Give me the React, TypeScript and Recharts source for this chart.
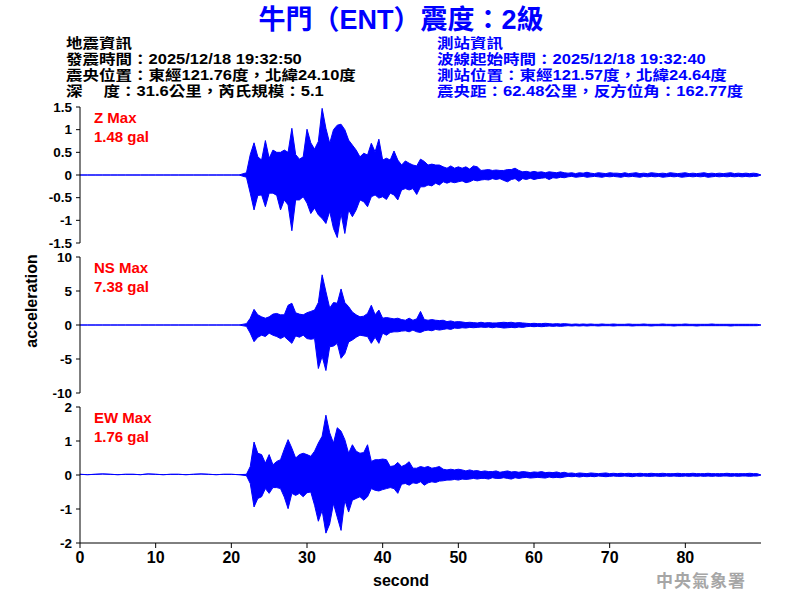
import { ComposedChart, Area, XAxis, YAxis } from "recharts";

// trace envelopes, one high/low pair per 0.5 s bin from 22.0 s to 89.5 s
const BIN_START = 22;
const BIN_STEP = 0.5;

const zHigh = [
  0.05, 0.45, 0.71, 0.4, 0.33, 0.76, 0.37, 0.55, 0.5, 0.5,
  0.55, 0.5, 1.03, 0.45, 0.35, 0.4, 1.01, 0.71, 0.57, 0.74,
  1.47, 1.03, 0.7, 1.0, 1.1, 1.12, 1.0, 0.77, 0.66, 0.55,
  0.4, 0.48, 0.44, 0.7, 0.51, 0.79, 0.33, 0.37, 0.33, 0.53,
  0.33, 0.22, 0.31, 0.26, 0.22, 0.2, 0.35, 0.3, 0.22, 0.24,
  0.22, 0.22, 0.18, 0.15, 0.2, 0.15, 0.18, 0.15, 0.18, 0.13,
  0.2, 0.18, 0.1, 0.11, 0.12, 0.1, 0.11, 0.1, 0.1, 0.12,
  0.12, 0.15, 0.1, 0.07, 0.08, 0.06, 0.08, 0.06, 0.07, 0.05,
  0.07, 0.06, 0.05, 0.07, 0.05, 0.04, 0.05, 0.03, 0.05, 0.04,
  0.06, 0.04, 0.03, 0.05, 0.04, 0.03, 0.05, 0.04, 0.04, 0.03,
  0.05, 0.03, 0.04, 0.05, 0.03, 0.04, 0.03, 0.05, 0.04, 0.03,
  0.04, 0.03, 0.05, 0.04, 0.03, 0.04, 0.05, 0.03, 0.04, 0.03,
  0.04, 0.05, 0.03, 0.04, 0.03, 0.04, 0.03, 0.04, 0.05, 0.03,
  0.04, 0.03, 0.04, 0.03, 0.04, 0.03,
];
const zLow = [
  -0.05, -0.4, -0.77, -0.45, -0.44, -0.7, -0.4, -0.4, -0.45, -0.77,
  -0.55, -0.66, -1.23, -0.55, -0.55, -0.48, -0.62, -0.85, -0.73, -0.88,
  -0.96, -1.07, -0.8, -1.18, -1.38, -0.85, -1.29, -0.77, -0.92, -0.77,
  -0.55, -0.59, -0.7, -0.48, -0.44, -0.51, -0.48, -0.54, -0.4, -0.44,
  -0.55, -0.33, -0.3, -0.33, -0.3, -0.43, -0.26, -0.26, -0.22, -0.24,
  -0.18, -0.22, -0.15, -0.18, -0.15, -0.17, -0.15, -0.13, -0.17, -0.15,
  -0.11, -0.13, -0.11, -0.1, -0.11, -0.08, -0.1, -0.08, -0.12, -0.15,
  -0.1, -0.08, -0.14, -0.08, -0.1, -0.07, -0.1, -0.08, -0.07, -0.06,
  -0.1, -0.06, -0.07, -0.05, -0.06, -0.04, -0.03, -0.05, -0.04, -0.03,
  -0.05, -0.04, -0.03, -0.04, -0.05, -0.03, -0.04, -0.03, -0.04, -0.05,
  -0.03, -0.04, -0.03, -0.04, -0.05, -0.03, -0.04, -0.03, -0.04, -0.03,
  -0.05, -0.04, -0.03, -0.04, -0.03, -0.05, -0.04, -0.03, -0.04, -0.03,
  -0.04, -0.03, -0.05, -0.04, -0.03, -0.04, -0.03, -0.04, -0.03, -0.04,
  -0.03, -0.04, -0.03, -0.04, -0.03, -0.03,
];

const nsHigh = [
  0.2, 1.0, 2.3, 1.5, 1.2, 1.0, 1.2, 1.6, 1.7, 1.5,
  1.5, 2.9, 3.2, 1.8, 1.6, 1.5, 1.8, 2.0, 2.2, 3.3,
  7.38, 4.9, 2.5, 3.3, 3.2, 5.3, 3.3, 2.7, 1.9, 1.5,
  1.2, 1.3, 1.7, 2.9, 1.5, 2.2, 1.0, 1.1, 1.0, 0.9,
  1.0, 0.8, 0.7, 1.0, 0.7, 0.9, 2.0, 0.8, 0.7, 0.8,
  0.7, 0.65, 0.7, 0.5, 0.6, 0.45, 0.5, 0.45, 0.35, 0.4,
  0.35, 0.3, 0.4, 0.3, 0.35, 0.3, 0.3, 0.35, 0.4, 0.35,
  0.4, 0.3, 0.35, 0.3, 0.25, 0.2, 0.25, 0.2, 0.2, 0.25,
  0.2, 0.15, 0.2, 0.15, 0.2, 0.15, 0.1, 0.15, 0.1, 0.15,
  0.1, 0.15, 0.1, 0.1, 0.15, 0.1, 0.1, 0.15, 0.1, 0.1,
  0.1, 0.15, 0.1, 0.1, 0.1, 0.15, 0.1, 0.1, 0.1, 0.1,
  0.15, 0.1, 0.1, 0.1, 0.1, 0.1, 0.15, 0.1, 0.1, 0.1,
  0.1, 0.1, 0.1, 0.15, 0.1, 0.1, 0.1, 0.1, 0.1, 0.1,
  0.1, 0.1, 0.1, 0.1, 0.1, 0.1,
];
const nsLow = [
  -0.2, -1.2, -2.45, -1.8, -1.5, -1.7, -1.2, -1.5, -1.7, -2.0,
  -1.7, -2.2, -2.7, -1.6, -1.8, -1.5, -2.0, -2.1, -2.0, -6.4,
  -4.6, -6.7, -3.2, -3.1, -2.7, -4.9, -4.2, -2.5, -2.2, -1.8,
  -1.5, -1.6, -1.7, -2.7, -1.8, -2.7, -1.2, -1.5, -1.1, -1.0,
  -1.0, -0.9, -0.85, -1.0, -0.75, -1.0, -1.1, -0.85, -0.75, -0.85,
  -0.65, -0.75, -0.65, -0.55, -0.65, -0.45, -0.5, -0.4, -0.45, -0.35,
  -0.4, -0.35, -0.3, -0.35, -0.3, -0.4, -0.3, -0.35, -0.45, -0.4,
  -0.35, -0.4, -0.3, -0.35, -0.25, -0.2, -0.25, -0.2, -0.25, -0.2,
  -0.15, -0.2, -0.15, -0.2, -0.15, -0.1, -0.15, -0.1, -0.15, -0.1,
  -0.15, -0.1, -0.1, -0.15, -0.1, -0.1, -0.1, -0.15, -0.1, -0.1,
  -0.1, -0.1, -0.15, -0.1, -0.1, -0.1, -0.1, -0.15, -0.1, -0.1,
  -0.1, -0.1, -0.1, -0.15, -0.1, -0.1, -0.1, -0.1, -0.1, -0.15,
  -0.1, -0.1, -0.1, -0.1, -0.1, -0.1, -0.1, -0.1, -0.15, -0.1,
  -0.1, -0.1, -0.1, -0.1, -0.1, -0.1,
];

const ewHigh = [
  0.02, 0.25, 0.97, 0.64, 0.6, 0.35, 0.6, 0.3, 0.4, 0.45,
  0.76, 1.04, 0.79, 0.5, 0.6, 0.64, 0.6, 0.55, 0.7, 0.94,
  1.14, 1.76, 1.24, 0.94, 1.39, 1.29, 1.04, 0.64, 0.89, 0.7,
  0.64, 0.66, 0.89, 0.4, 0.45, 0.45, 0.47, 0.45, 0.25, 0.27,
  0.37, 0.25, 0.3, 0.39, 0.2, 0.2, 0.25, 0.22, 0.25, 0.2,
  0.22, 0.25, 0.17, 0.15, 0.17, 0.15, 0.17, 0.15, 0.12, 0.15,
  0.12, 0.13, 0.1, 0.12, 0.1, 0.1, 0.12, 0.08, 0.1, 0.12,
  0.09, 0.1, 0.08, 0.1, 0.09, 0.07, 0.09, 0.08, 0.1, 0.07,
  0.08, 0.07, 0.09, 0.06, 0.08, 0.05, 0.06, 0.04, 0.06, 0.05,
  0.04, 0.06, 0.05, 0.04, 0.05, 0.06, 0.04, 0.05, 0.04, 0.05,
  0.04, 0.05, 0.04, 0.04, 0.05, 0.04, 0.04, 0.05, 0.04, 0.04,
  0.05, 0.04, 0.04, 0.04, 0.05, 0.04, 0.04, 0.04, 0.05, 0.04,
  0.04, 0.04, 0.05, 0.04, 0.04, 0.04, 0.04, 0.05, 0.04, 0.04,
  0.04, 0.04, 0.04, 0.05, 0.04, 0.04,
];
const ewLow = [
  -0.02, -0.25, -0.94, -0.69, -0.64, -0.4, -0.54, -0.37, -0.37, -0.4,
  -0.65, -0.99, -0.54, -0.6, -0.54, -0.64, -0.52, -0.5, -0.89, -1.36,
  -1.04, -1.71, -1.44, -0.84, -1.24, -1.63, -0.74, -1.09, -0.74, -0.69,
  -0.64, -0.74, -0.64, -0.4, -0.45, -0.47, -0.43, -0.4, -0.37, -0.4,
  -0.54, -0.27, -0.25, -0.3, -0.23, -0.25, -0.2, -0.3, -0.23, -0.2,
  -0.22, -0.18, -0.17, -0.15, -0.15, -0.13, -0.15, -0.12, -0.13, -0.12,
  -0.1, -0.12, -0.1, -0.1, -0.12, -0.08, -0.1, -0.1, -0.08, -0.1,
  -0.12, -0.08, -0.1, -0.08, -0.07, -0.09, -0.08, -0.07, -0.08, -0.09,
  -0.06, -0.08, -0.07, -0.08, -0.06, -0.04, -0.05, -0.04, -0.06, -0.04,
  -0.05, -0.04, -0.05, -0.03, -0.04, -0.05, -0.04, -0.03, -0.04, -0.04,
  -0.03, -0.04, -0.05, -0.03, -0.04, -0.03, -0.04, -0.04, -0.03, -0.04,
  -0.04, -0.03, -0.04, -0.03, -0.04, -0.04, -0.03, -0.04, -0.03, -0.04,
  -0.03, -0.04, -0.03, -0.04, -0.03, -0.04, -0.03, -0.03, -0.04, -0.03,
  -0.04, -0.03, -0.03, -0.04, -0.03, -0.03,
];

// EW baseline before the P arrival, one value per second from 0 s
const ewPre = [
  0.02, 0.01, 0.02, 0.03, 0.02, 0.01, 0.02, 0.02, 0.01, 0.03, 0.02,
  0.01, 0.02, 0.02, 0.01, 0.02, 0.03, 0.02, 0.01, 0.02, 0.02, 0.01,
];

const X_TICKS = [0, 10, 20, 30, 40, 50, 60, 70, 80];
const Z_TICKS = [-1.5, -1, -0.5, 0, 0.5, 1, 1.5];
const NS_TICKS = [-10, -5, 0, 5, 10];
const EW_TICKS = [-2, -1, 0, 1, 2];

type Row = { t: number; z: number[]; ns: number[]; ew: number[] };

// each row is the [low, high] band of one time slot
const rows: Row[] = [];
ewPre.forEach((v, i) => rows.push({ t: i, z: [0, 0], ns: [0, 0], ew: [v, v] }));
zHigh.forEach((_, i) => {
  rows.push({
    t: BIN_START + i * BIN_STEP,
    z: [zLow[i], zHigh[i]],
    ns: [nsLow[i], nsHigh[i]],
    ew: [ewLow[i], ewHigh[i]],
  });
});
rows.push({ t: 90, z: [0, 0], ns: [0, 0], ew: [0, 0] });

const SANS = '"Liberation Sans", Arial, "Noto Sans CJK TC", sans-serif';
const BLUE = "#0000ff";

function Trace({
  top,
  dataKey,
  ticks,
  withX,
}: {
  top: number;
  dataKey: "z" | "ns" | "ew";
  ticks: number[];
  withX?: boolean;
}) {
  const lo = ticks[0];
  const hi = ticks[ticks.length - 1];
  return (
    <div style={{ position: "absolute", left: 0, top }}>
      <ComposedChart
        width={800}
        height={withX ? 174 : 152}
        data={rows}
        margin={{ top: 8, right: 39, bottom: withX ? 0 : 8, left: 0 }}
      >
        <XAxis
          dataKey="t"
          type="number"
          domain={[0, 90]}
          ticks={X_TICKS}
          hide={!withX}
          height={30}
          allowDataOverflow
          interval={0}
          stroke="#000"
          tickSize={5}
          tickMargin={4}
          tick={{ fill: "#000", fontSize: 16, fontWeight: "bold", fontFamily: SANS }}
        />
        <YAxis
          width={80}
          type="number"
          domain={[lo, hi]}
          ticks={ticks}
          interval={0}
          allowDataOverflow
          stroke="#000"
          tickSize={4}
          tickMargin={4}
          tick={{ fill: "#000", fontSize: 13.5, fontWeight: "bold", fontFamily: SANS }}
        />
        <Area
          dataKey={dataKey}
          type="linear"
          stroke={BLUE}
          strokeWidth={1}
          fill={BLUE}
          fillOpacity={1}
          dot={false}
          activeDot={false}
          isAnimationActive={false}
        />
      </ComposedChart>
    </div>
  );
}

// header lines are drawn at 14px and stretched sideways like the original's wide glyphs
function HeaderBlock({ x, color, lines }: { x: number; color: string; lines: string[] }) {
  return (
    <g transform={`translate(${x} 0) scale(1.18 1)`} fill={color}>
      {lines.map((s, i) => (
        <text
          key={i}
          x={0}
          y={48 + i * 16}
          style={{ fontFamily: SANS, fontSize: 14, fontWeight: "bold", whiteSpace: "pre" }}
        >
          {s}
        </text>
      ))}
    </g>
  );
}

const QUAKE_INFO = [
  "地震資訊",
  "發震時間：2025/12/18 19:32:50",
  "震央位置：東經121.76度，北緯24.10度",
  "深\u3000 度：31.6公里，芮氏規模：5.1",
];
const STATION_INFO = [
  "測站資訊",
  "波線起始時間：2025/12/18 19:32:40",
  "測站位置：東經121.57度，北緯24.64度",
  "震央距：62.48公里，反方位角：162.77度",
];

export default function App() {
  const red = { fontFamily: SANS, fontSize: 15, fontWeight: "bold" as const, fill: "#ff0000" };
  return (
    <div
      style={{
        position: "absolute",
        left: 0,
        top: 0,
        width: 800,
        height: 600,
        background: "#fff",
        fontFamily: SANS,
      }}
    >
      <Trace top={99} dataKey="z" ticks={Z_TICKS} />
      <Trace top={249} dataKey="ns" ticks={NS_TICKS} />
      <Trace top={399} dataKey="ew" ticks={EW_TICKS} withX />

      <svg
        width={800}
        height={600}
        style={{ position: "absolute", left: 0, top: 0, pointerEvents: "none" }}
      >
        <text
          x={401}
          y={29}
          textAnchor="middle"
          fill={BLUE}
          style={{ fontFamily: SANS, fontSize: 27, fontWeight: "bold" }}
        >
          牛門（ENT）震度：2級
        </text>

        <HeaderBlock x={66} color="#000" lines={QUAKE_INFO} />
        <HeaderBlock x={437} color={BLUE} lines={STATION_INFO} />

        <g style={red}>
          <text x={94} y={123}>Z Max</text>
          <text x={94} y={141.5}>1.48 gal</text>
          <text x={94} y={273}>NS Max</text>
          <text x={94} y={291.5}>7.38 gal</text>
          <text x={94} y={423}>EW Max</text>
          <text x={94} y={441.5}>1.76 gal</text>
        </g>

        <text
          x={0}
          y={0}
          textAnchor="middle"
          transform="translate(37 301) rotate(-90)"
          style={{ fontFamily: SANS, fontSize: 16, fontWeight: "bold" }}
        >
          acceleration
        </text>
        <text
          x={401}
          y={586}
          textAnchor="middle"
          style={{ fontFamily: SANS, fontSize: 16, fontWeight: "bold" }}
        >
          second
        </text>
        <text
          x={656}
          y={587}
          fill="#a6a6a6"
          letterSpacing={1}
          style={{ fontFamily: '"Noto Sans CJK TC", sans-serif', fontSize: 17, fontWeight: "bold" }}
        >
          中央氣象署
        </text>
      </svg>
    </div>
  );
}
